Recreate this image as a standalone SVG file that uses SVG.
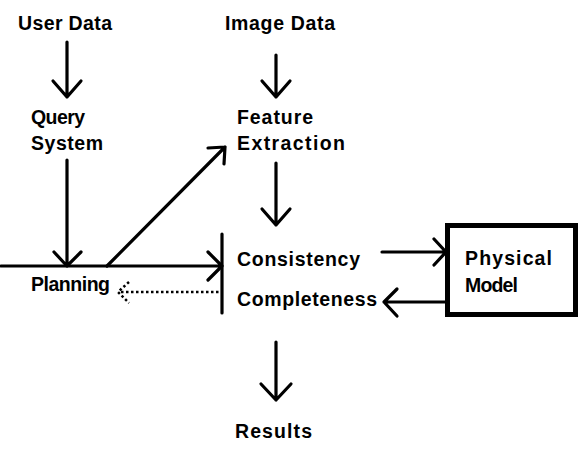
<svg xmlns="http://www.w3.org/2000/svg" width="584" height="462" viewBox="0 0 584 462">
<style>
text{font-family:"Liberation Sans",Arial,sans-serif;font-weight:bold;font-size:19.5px;fill:#000}
.ln{stroke:#000;stroke-width:3.2;fill:none;stroke-linecap:round;stroke-linejoin:round}
.dot{stroke:#000;stroke-width:2.5;fill:none;stroke-dasharray:2.5 2.5}
</style>
<rect width="584" height="462" fill="#fff"/>
<g id="user-data"><text x="18" y="30" textLength="94" lengthAdjust="spacing">User Data</text></g>
<g id="image-data"><text x="225" y="30" textLength="110" lengthAdjust="spacing">Image Data</text></g>
<g id="query-system"><text x="31" y="124" textLength="54" lengthAdjust="spacing">Query</text><text x="31" y="150" textLength="72" lengthAdjust="spacing">System</text></g>
<g id="feature-extraction"><text x="237" y="124" textLength="76" lengthAdjust="spacing">Feature</text><text x="237" y="150" textLength="108" lengthAdjust="spacing">Extraction</text></g>
<g id="planning"><text x="31" y="291" textLength="79" lengthAdjust="spacing">Planning</text></g>
<g id="consistency-completeness"><text x="237" y="266" textLength="123" lengthAdjust="spacing">Consistency</text><text x="237" y="306" textLength="140" lengthAdjust="spacing">Completeness</text><path class="ln" d="M222 234V313"/></g>
<g id="physical-model"><rect x="447.5" y="225.5" width="128" height="89" fill="none" stroke="#000" stroke-width="5"/><text x="465" y="265" textLength="87" lengthAdjust="spacing">Physical</text><text x="465" y="292" textLength="53" lengthAdjust="spacing">Model</text></g>
<g id="results"><text x="235" y="438" textLength="77" lengthAdjust="spacing">Results</text></g>
<g id="connectors">
<path class="ln" d="M67 42V97M53 81L67 97L81 81"/>
<path class="ln" d="M276 55V97M262 81L276 97L290 81"/>
<path class="ln" d="M67 160V266M54 252L67 266L81 252"/>
<path class="ln" d="M276 163V225M262 209L276 225L290 209"/>
<path class="ln" d="M1 266H222M208 252L222 266L208 280"/>
<path class="ln" d="M107 266L225 147M208 148L225 147L224 164"/>
<path class="dot" d="M121 292H221"/>
<path class="dot" d="M129 282L118 292L129 303"/>
<path class="ln" d="M382 252H446M434 239L446 252L434 265"/>
<path class="ln" d="M446 302H384M397 289L384 302L397 316"/>
<path class="ln" d="M276 342V400M261 384L276 400L291 384"/>
</g>
</svg>
